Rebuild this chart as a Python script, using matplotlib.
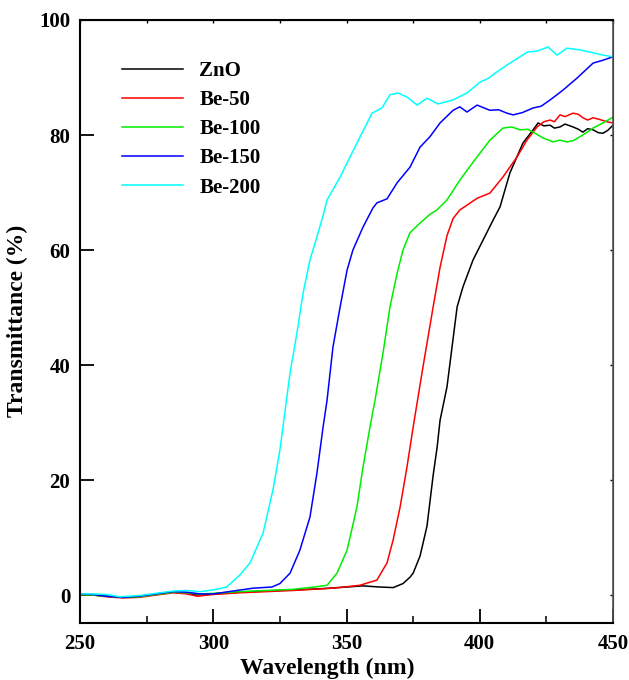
import matplotlib
matplotlib.use("Agg")
import matplotlib.pyplot as plt
from matplotlib.ticker import MultipleLocator

# ZnO
znO_wl = [250, 255, 260, 266, 272, 280, 285, 290, 294, 300, 310, 320, 330, 340, 350.2, 356, 362.6, 367.5,
          371.2, 373.8, 375, 377.6, 380.2, 382.5, 384, 385.1, 387.7, 391.5, 393.7, 397.5, 401.2, 405, 407.6,
          411.3, 416.2, 420, 421.9, 424, 426.4, 428, 430.1, 432, 435, 437, 438.7, 440.5, 442.5, 444.5, 446.2, 448, 450]
znO_t = [0.1, 0.0, -0.2, -0.4, -0.3, 0.2, 0.5, 0.3, 0.0, 0.2, 0.5, 0.7, 0.9, 1.1, 1.4, 1.6, 1.4, 1.3,
         2.0, 3.1, 3.8, 6.8, 12.0, 20.8, 25.7, 30.4, 36.2, 50.1, 53.6, 58.3, 61.7, 65.2, 67.5,
         73.4, 78.6, 80.9, 82.1, 81.6, 81.7, 81.2, 81.4, 81.9, 81.4, 81.0, 80.5, 81.1, 80.9, 80.4, 80.3, 80.8, 81.7]

# Be-50
be50_wl = [250, 255, 260, 266, 272, 280, 285, 290, 294, 300, 310, 320, 330, 345, 355, 361.4, 365.2, 367.5,
           370.1, 372.7, 375, 378.7, 382.5, 385.1, 387.7, 390, 392.6, 395.2, 399, 403.8, 408.7, 414, 417.7,
           421.5, 424, 426.4, 428, 430.1, 432, 435, 437, 438.7, 440.5, 442.5, 445, 447.7, 450]
be50_t = [0.1, 0.0, -0.3, -0.5, -0.4, 0.1, 0.4, 0.2, -0.2, 0.1, 0.4, 0.6, 0.8, 1.2, 1.7, 2.6, 5.6, 9.6,
          15.3, 22.3, 29.2, 39.7, 50.1, 57.0, 62.5, 65.5, 67.0, 67.8, 69.0, 69.9, 72.7, 76.2, 79.1,
          81.4, 82.3, 82.6, 82.3, 83.5, 83.2, 83.8, 83.6, 83.0, 82.6, 83.0, 82.7, 82.3, 82.1]

# Be-100
be100_wl = [250, 255, 260, 266, 272, 280, 285, 290, 295, 300, 310, 320, 330, 338, 342.7, 346.4, 350.2,
            353.9, 356.2, 358.8, 360.7, 363.7, 366.3, 369, 371.2, 373.8, 377.6, 381.3, 384, 387.7, 392.6,
            399, 403.8, 408.7, 412, 415.1, 418, 420, 423.7, 427.5, 430, 432.7, 435, 437.6, 440, 442.5, 446.2, 450]
be100_t = [0.1, 0.0, -0.2, -0.4, -0.3, 0.2, 0.5, 0.4, 0.2, 0.3, 0.6, 0.8, 1.0, 1.4, 1.7, 3.8, 7.8,
           15.3, 22.3, 29.2, 33.9, 42.1, 50.1, 56.0, 60.0, 63.0, 64.7, 66.2, 67.0, 68.7, 72.2,
           76.2, 79.1, 81.2, 81.4, 80.9, 81.0, 80.5, 79.5, 78.8, 79.1, 78.8, 79.0, 79.7, 80.4, 81.2, 82.1, 83.1]

# Be-150
be150_wl = [250, 255, 260, 266, 272, 280, 285, 290, 295, 300, 307.4, 315, 322, 325, 328.8, 332.5, 336.3,
            338.9, 341.2, 342.7, 344.9, 347.6, 350.2, 352.4, 356.2, 359.9, 361.4, 365.2, 369, 373.8, 377.6,
            381.3, 385.1, 390, 392.5, 395.2, 399, 403.8, 407, 410.2, 412.5, 416, 420, 423, 426.4, 431.2,
            436.5, 442.5, 446.2, 450]
be150_t = [0.2, 0.1, -0.2, -0.4, -0.2, 0.3, 0.6, 0.5, 0.2, 0.2, 0.7, 1.2, 1.4, 2.0, 3.8, 7.8, 13.6,
           21.2, 29.2, 33.9, 43.1, 50.1, 56.5, 60.0, 64.0, 67.3, 68.2, 68.9, 71.7, 74.4, 77.9,
           79.7, 82.1, 84.3, 84.9, 84.0, 85.2, 84.3, 84.4, 83.8, 83.5, 83.9, 84.7, 85.0, 86.1, 87.8,
           89.9, 92.5, 93.0, 93.6]

# Be-200
be200_wl = [250, 255, 260, 265, 272, 280, 285, 290, 295, 300, 305, 310, 313.8, 318.7, 322.4, 325,
            328.8, 331.4, 333.7, 336.3, 338.9, 341.2, 342.7, 347.6, 353.9, 359.6, 363.3, 366.3, 369.3,
            372.7, 376.5, 380.2, 384.3, 390, 395.2, 400.1, 403, 406.5, 411.3, 415.1, 417.7, 421.5,
            425.6, 429, 432.7, 437.6, 442.5, 446.2, 450]
be200_t = [0.2, 0.2, 0.1, -0.3, -0.1, 0.4, 0.7, 0.8, 0.6, 0.9, 1.4, 3.5, 5.6, 10.8, 18.3, 25.2,
           38.6, 45.6, 52.5, 58.3, 62.3, 66.0, 68.7, 72.7, 78.6, 83.8, 84.7, 87.0, 87.3,
           86.6, 85.2, 86.4, 85.4, 86.1, 87.3, 89.2, 89.8, 91.0, 92.5, 93.6, 94.4, 94.6,
           95.3, 93.9, 95.1, 94.8, 94.3, 93.9, 93.6]

series = [
    ("ZnO", znO_wl, znO_t, "black"),
    ("Be-50", be50_wl, be50_t, "#ff0000"),
    ("Be-100", be100_wl, be100_t, "#00ee00"),
    ("Be-150", be150_wl, be150_t, "#0000ff"),
    ("Be-200", be200_wl, be200_t, "#00ffff"),
]

plt.rcParams["font.family"] = ["Liberation Serif", "DejaVu Serif"]
plt.rcParams["font.weight"] = "bold"

fig = plt.figure(figsize=(6.29, 6.8), dpi=100)
ax = fig.add_axes([0.1272, 0.0843, 0.8474, 0.8863])

for label, wl, t, color in series:
    ax.plot(wl, t, color=color, lw=1.1, label=label)

ax.set_xlim(250, 450)
ax.set_ylim(-4.8, 100)
ax.xaxis.set_major_locator(MultipleLocator(50))
ax.xaxis.set_minor_locator(MultipleLocator(25))
ax.yaxis.set_major_locator(MultipleLocator(20))

ax.tick_params(axis="both", which="major", direction="in", length=10, width=1.3,
               labelsize=15, top=False, right=False)
ax.tick_params(axis="x", which="major", pad=8)
ax.tick_params(axis="y", which="major", pad=7)
ax.tick_params(axis="x", which="minor", direction="in", length=5, width=1.1, top=False)

# faint short ticks on the top and right edges
sec_x = ax.secondary_xaxis("top")
sec_x.xaxis.set_major_locator(MultipleLocator(25))
sec_x.tick_params(direction="in", length=2, width=1, labeltop=False)
sec_y = ax.secondary_yaxis("right")
sec_y.yaxis.set_major_locator(MultipleLocator(20))
sec_y.tick_params(direction="in", length=2, width=1, labelright=False)

for s in ax.spines.values():
    s.set_linewidth(1.5)
ax.spines["right"].set_color("#555555")
ax.spines["right"].set_linewidth(1.2)
for lab in ax.get_xticklabels() + ax.get_yticklabels():
    lab.set_fontweight("bold")

ax.set_xlabel("Wavelength (nm)", fontsize=17, fontweight="bold")
ax.xaxis.set_label_coords(0.463, -0.058, transform=ax.transAxes)
ax.xaxis.label.set_verticalalignment("top")
ax.set_ylabel("Transmittance (%)", fontsize=17, fontweight="bold", labelpad=8)

ax.legend(loc="upper left", bbox_to_anchor=(0.079, 0.932), frameon=False,
          prop={"size": 15, "weight": "bold"}, handlelength=2.9, handletextpad=0.8,
          labelspacing=0.44, borderpad=0, borderaxespad=0)

fig.savefig("out.png", dpi=100)
